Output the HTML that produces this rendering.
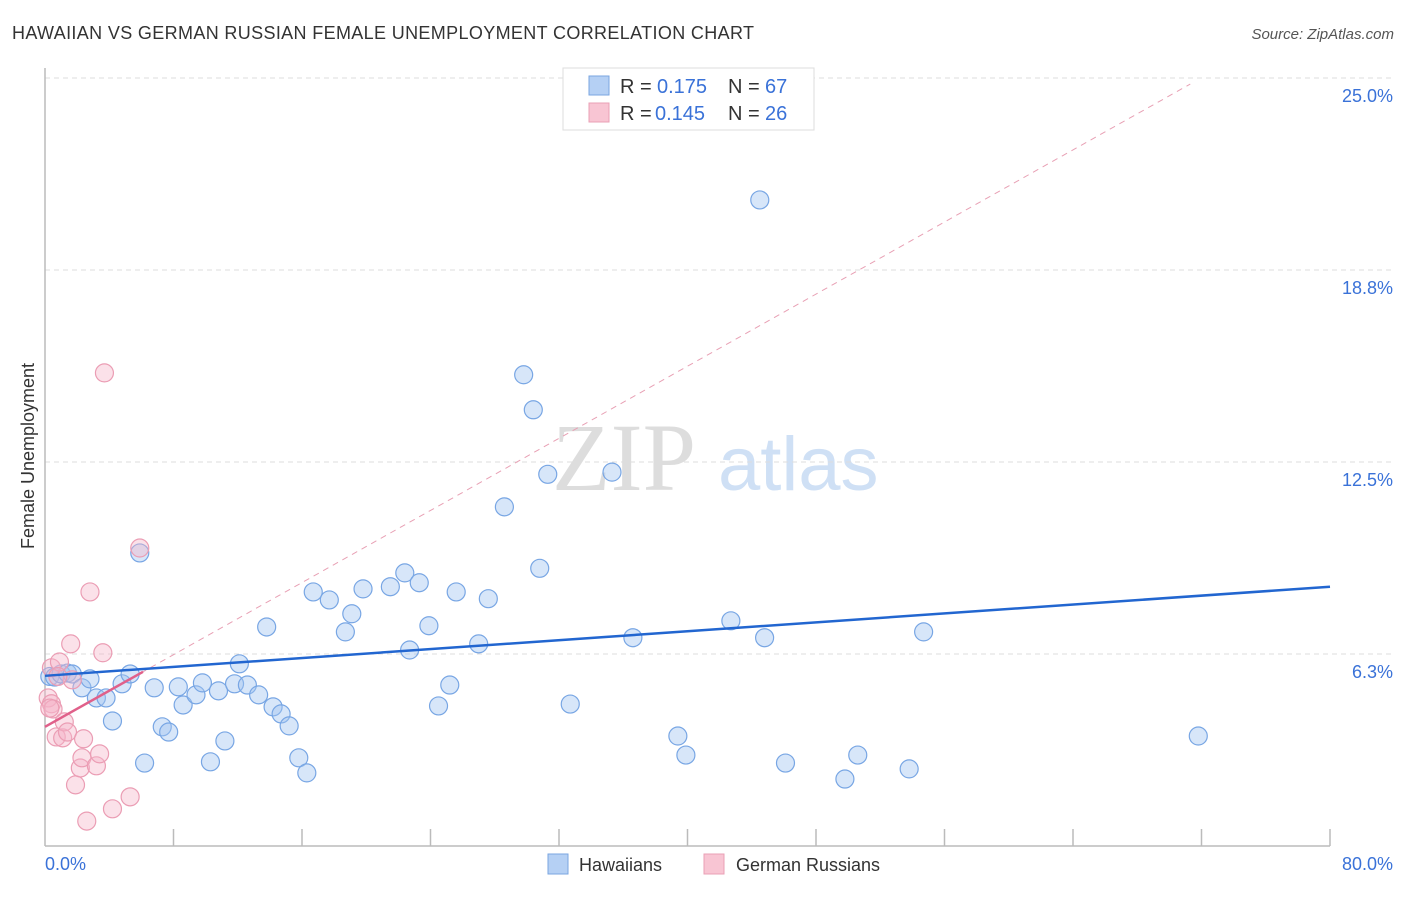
<!DOCTYPE html>
<html><head><meta charset="utf-8"><style>
body{margin:0;background:#fff;font-family:"Liberation Sans",sans-serif}
</style></head><body>
<svg width="1406" height="892" xmlns="http://www.w3.org/2000/svg" font-family="Liberation Sans, sans-serif">
<text x="12" y="39" font-size="18" fill="#333" textLength="742" lengthAdjust="spacing">HAWAIIAN VS GERMAN RUSSIAN FEMALE UNEMPLOYMENT CORRELATION CHART</text>
<text x="1394" y="39" font-size="15" fill="#555" text-anchor="end" font-style="italic">Source: ZipAtlas.com</text>
<g>
<text x="552" y="490" font-size="96" fill="#ddd" font-family="Liberation Serif, serif">ZIP</text>
<text x="718" y="490" font-size="76" fill="#cfe0f5">atlas</text>
</g>
<g id="grid"></g>
<g id="axes"></g>
<g id="lines"></g>
<g id="pts"></g>
<text transform="translate(34,456) rotate(-90)" font-size="18" fill="#333" text-anchor="middle">Female Unemployment</text>
<text x="45" y="870" font-size="18" fill="#3a72d8">0.0%</text>
<text x="1393" y="870" font-size="18" fill="#3a72d8" text-anchor="end">80.0%</text>
<g>
<rect x="563" y="68" width="251" height="62" fill="#fff" stroke="#ddd"/>
<rect x="589" y="76" width="20" height="19" fill="#b5d0f4" stroke="#7aa6e0"/>
<rect x="589" y="103" width="20" height="19" fill="#f8c5d3" stroke="#eaa0b6"/>
<text x="620" y="93" font-size="20" fill="#333">R =</text>
<text x="657" y="93" font-size="20" fill="#3a72d8">0.175</text>
<text x="728" y="93" font-size="20" fill="#333">N =</text>
<text x="765" y="93" font-size="20" fill="#3a72d8">67</text>
<text x="620" y="120" font-size="20" fill="#333">R =</text>
<text x="655" y="120" font-size="20" fill="#3a72d8">0.145</text>
<text x="728" y="120" font-size="20" fill="#333">N =</text>
<text x="765" y="120" font-size="20" fill="#3a72d8">26</text>
</g>
<g>
<rect x="548" y="854" width="20" height="20" fill="#b5d0f4" stroke="#7aa6e0"/>
<text x="579" y="871" font-size="18" fill="#333">Hawaiians</text>
<rect x="704" y="854" width="20" height="20" fill="#f8c5d3" stroke="#eaa0b6"/>
<text x="736" y="871" font-size="18" fill="#333">German Russians</text>
</g>
</svg>
<script>
const yTicks=[25.0,18.8,12.5,6.3];
const yTickVals=[25,18.75,12.5,6.25];
const blueX=[0.3,0.6,1.0,1.4,1.7,2.3,2.8,3.2,3.8,4.2,4.8,5.3,5.9,6.2,6.8,7.3,7.7,8.3,8.6,9.4,9.8,10.3,10.8,11.2,11.8,12.1,12.6,13.3,13.8,14.2,14.7,15.2,15.8,16.3,16.7,17.7,18.7,19.1,19.8,21.5,22.4,22.7,23.3,23.9,24.5,25.2,25.6,27.0,27.6,28.6,29.8,30.4,30.8,31.3,32.7,35.3,36.6,39.4,39.9,42.7,44.5,44.8,46.1,49.8,50.6,53.8,54.7,71.8];
const blueY=[5.52,5.50,5.60,5.63,5.60,5.15,5.44,4.82,4.82,4.07,5.28,5.60,9.54,2.70,5.15,3.88,3.71,5.18,4.59,4.92,5.31,2.74,5.05,3.42,5.28,5.93,5.24,4.92,7.13,4.53,4.30,3.91,2.87,2.38,8.27,8.01,6.97,7.56,8.37,8.44,8.89,6.38,8.57,7.17,4.56,5.24,8.27,6.58,8.05,11.04,15.34,14.20,9.04,12.10,4.62,12.17,6.78,3.58,2.96,7.33,21.03,6.78,2.70,2.18,2.96,2.51,6.97,3.58];
const pinkX=[0.4,0.2,0.4,0.5,0.7,0.9,1.1,1.2,1.4,1.6,1.7,1.9,2.2,2.3,2.4,2.6,2.8,3.2,3.4,3.6,3.7,4.2,5.3,5.9,0.8,0.3];
const pinkY=[5.80,4.82,4.63,4.46,3.55,5.99,3.52,4.04,3.71,6.58,5.41,1.99,2.54,2.87,3.49,0.81,8.27,2.61,3.00,6.29,15.40,1.21,1.60,9.70,5.52,4.49];
const blueTrend=[5.54,8.44];
const pinkTrend=[3.88,5.67];
const pinkDashEnd=71.3;
const NS="http://www.w3.org/2000/svg";
const sx=v=>45+v*(1285/80), sy=v=>846-v*30.72;
function mk(tag,attrs,parent){const e=document.createElementNS(NS,tag);for(const k in attrs)e.setAttribute(k,attrs[k]);document.getElementById(parent).appendChild(e);return e;}
yTickVals.forEach((v,i)=>{
 const g=mk('line',{x1:45,x2:1395,y1:sy(v),y2:sy(v),stroke:'#ddd','stroke-dasharray':'5,4'},'grid');
 
 
 const t=mk('text',{x:1393,y:sy(v)+24,'font-size':18,fill:'#3a72d8','text-anchor':'end'},'grid');
 t.textContent=yTicks[i].toFixed(1)+'%';
 
 
});
const ya=mk('line',{x1:45,x2:45,y1:68,y2:846,stroke:'#bbb','stroke-width':1.5},'axes');


const xa=mk('line',{x1:45,x2:1330,y1:846,y2:846,stroke:'#bbb','stroke-width':1.5},'axes');


for(let i=1;i<=10;i++){const t=mk('line',{x1:sx(i*8),x2:sx(i*8),y1:829,y2:846,stroke:'#bbb','stroke-width':1.5},'axes');
 
 }
const pd=mk('line',{x1:sx(0),y1:sy(pinkTrend[0]),x2:sx(pinkDashEnd),y2:sy(pinkTrend[0]+(pinkTrend[1]-pinkTrend[0])/6.1*pinkDashEnd),stroke:'#e8a0b4','stroke-dasharray':'6,5','stroke-width':1},'lines');


blueX.forEach((x,i)=>{const c=mk('circle',{cx:sx(x),cy:sy(blueY[i]),r:9,fill:'rgba(160,195,240,0.42)',stroke:'#78a6e4','stroke-width':1.2},'pts');
 
 });
pinkX.forEach((x,i)=>{const c=mk('circle',{cx:sx(x),cy:sy(pinkY[i]),r:9,fill:'rgba(245,180,200,0.4)',stroke:'#eb9db4','stroke-width':1.2},'pts');
 
 });
const bl=mk('line',{x1:sx(0),y1:sy(blueTrend[0]),x2:sx(80),y2:sy(blueTrend[1]),stroke:'#2266d0','stroke-width':2.5},'pts');


const pl=mk('line',{x1:sx(0),y1:sy(pinkTrend[0]),x2:sx(6.1),y2:sy(pinkTrend[1]),stroke:'#e0608a','stroke-width':2.5},'pts');


</script>
</body></html>
